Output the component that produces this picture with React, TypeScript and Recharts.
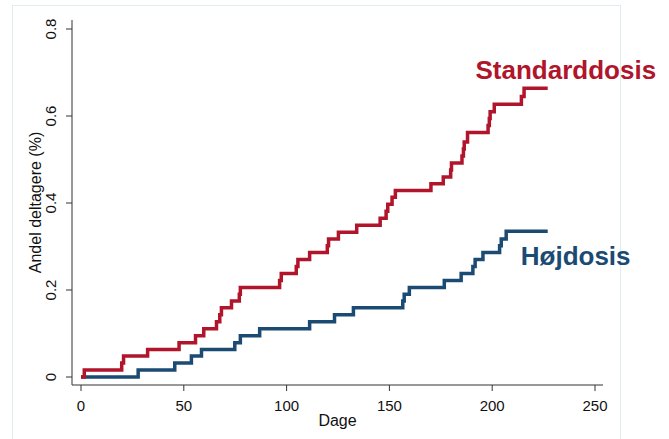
import { LineChart, Line, XAxis, YAxis, ReferenceDot } from "recharts";

const FONT = '"Liberation Sans", Arial, Helvetica, sans-serif';
const RED = "#b0152b";
const BLUE = "#1b4a73";

// Standarddosis – cumulative share, step after each day
const standardDays = [
  0, 1.6, 19.8, 20.7, 32.4, 47.7, 55.7, 59.7, 65.9, 67.5, 68.3, 73.2, 77.0,
  77.5, 96.6, 97.4, 104.7, 105.5, 111.2, 119.8, 120.4, 125.2, 134.1, 145.5,
  148.4, 149.2, 151.3, 152.9, 170.2, 176.2, 179.8, 180.2, 185.3, 186.0, 186.4,
  188.0, 198.0, 198.6, 199.0, 201.0, 214.2, 215.5, 227.0,
];
const standardValues = [
  0, 0.016, 0.032, 0.048, 0.063, 0.079, 0.095, 0.111, 0.127, 0.143, 0.159,
  0.175, 0.19, 0.206, 0.222, 0.238, 0.254, 0.27, 0.286, 0.302, 0.317, 0.333,
  0.349, 0.365, 0.381, 0.397, 0.413, 0.429, 0.444, 0.46, 0.476, 0.492, 0.508,
  0.524, 0.54, 0.562, 0.578, 0.594, 0.61, 0.627, 0.645, 0.664, 0.664,
];

// Højdosis
const hojDays = [
  0, 27.8, 45.6, 53.7, 58.6, 74.8, 77.5, 86.9, 111.2, 123.3, 132.5, 156.5,
  157.2, 159.7, 176.7, 184.9, 190.6, 191.7, 195.5, 203.6, 204.4, 206.8, 227.0,
];
const hojValues = [
  0, 0.016, 0.032, 0.048, 0.063, 0.079, 0.095, 0.111, 0.127, 0.143, 0.159,
  0.175, 0.19, 0.206, 0.222, 0.238, 0.254, 0.27, 0.286, 0.302, 0.317, 0.335,
  0.335,
];

const xTicks = [0, 50, 100, 150, 200, 250];
const yTicks = [0, 0.2, 0.4, 0.6, 0.8];

const standardData = standardDays.map((d, i) => ({ day: d, value: standardValues[i] }));
const hojData = hojDays.map((d, i) => ({ day: d, value: hojValues[i] }));

function YTick(props: any) {
  const { y, payload } = props;
  return (
    <text
      transform={`translate(56,${y}) rotate(-90)`}
      textAnchor="middle"
      fontSize={15}
      fontFamily={FONT}
      fill="#111"
    >
      {payload.value === 0 ? "0" : payload.value.toFixed(1)}
    </text>
  );
}

export default function App() {
  return (
    <div
      style={{
        position: "fixed",
        left: 0,
        top: 0,
        width: 669,
        height: 439,
        background: "#fff",
        overflow: "hidden",
      }}
    >
      <div
        style={{
          position: "absolute",
          left: 12,
          top: 5,
          width: 607,
          height: 460,
          border: "1px solid #e2ebf0",
        }}
      />
      <div style={{ position: "absolute", left: 0, top: 0 }}>
        <LineChart
          width={669}
          height={439}
          margin={{ top: 20, right: 66, bottom: 14, left: 12 }}
        >
          <XAxis
            type="number"
            dataKey="day"
            domain={[0, 250]}
            ticks={xTicks}
            padding={{ left: 9, right: 8 }}
            height={40}
            tickSize={6}
            tickMargin={9}
            stroke="#333"
            tick={{ fontSize: 15, fontFamily: FONT, fill: "#111" }}
            label={{
              content: (p: any) => {
                const vb = p.viewBox;
                return (
                  <text
                    x={vb.x + vb.width / 2}
                    y={426}
                    textAnchor="middle"
                    fontSize={16}
                    fontFamily={FONT}
                    fill="#111"
                  >
                    Dage
                  </text>
                );
              },
            }}
          />
          <YAxis
            type="number"
            dataKey="value"
            domain={[0, 0.8]}
            ticks={yTicks}
            padding={{ top: 9, bottom: 8 }}
            width={60}
            tickSize={6}
            stroke="#333"
            tick={<YTick />}
            label={{
              content: (p: any) => {
                const vb = p.viewBox;
                return (
                  <text
                    transform={`translate(41,${vb.y + vb.height / 2}) rotate(-90)`}
                    textAnchor="middle"
                    fontSize={16}
                    fontFamily={FONT}
                    fill="#111"
                  >
                    Andel deltagere (%)
                  </text>
                );
              },
            }}
          />
          <Line
            data={hojData}
            dataKey="value"
            type="stepAfter"
            stroke={BLUE}
            strokeWidth={3.5}
            dot={false}
            isAnimationActive={false}
          />
          <Line
            data={standardData}
            dataKey="value"
            type="stepAfter"
            stroke={RED}
            strokeWidth={3.5}
            dot={false}
            isAnimationActive={false}
          />
          <ReferenceDot
            x={235.8}
            y={0.684}
            r={0}
            shape={(p: any) => (
              <text
                x={p.cx}
                y={p.cy}
                textAnchor="middle"
                fontSize={26}
                fontWeight="bold"
                fontFamily={FONT}
                fill={RED}
              >
                Standarddosis
              </text>
            )}
          />
          <ReferenceDot
            x={240.6}
            y={0.258}
            r={0}
            shape={(p: any) => (
              <text
                x={p.cx}
                y={p.cy}
                textAnchor="middle"
                fontSize={26}
                fontWeight="bold"
                fontFamily={FONT}
                fill={BLUE}
              >
                Højdosis
              </text>
            )}
          />
        </LineChart>
      </div>
    </div>
  );
}
